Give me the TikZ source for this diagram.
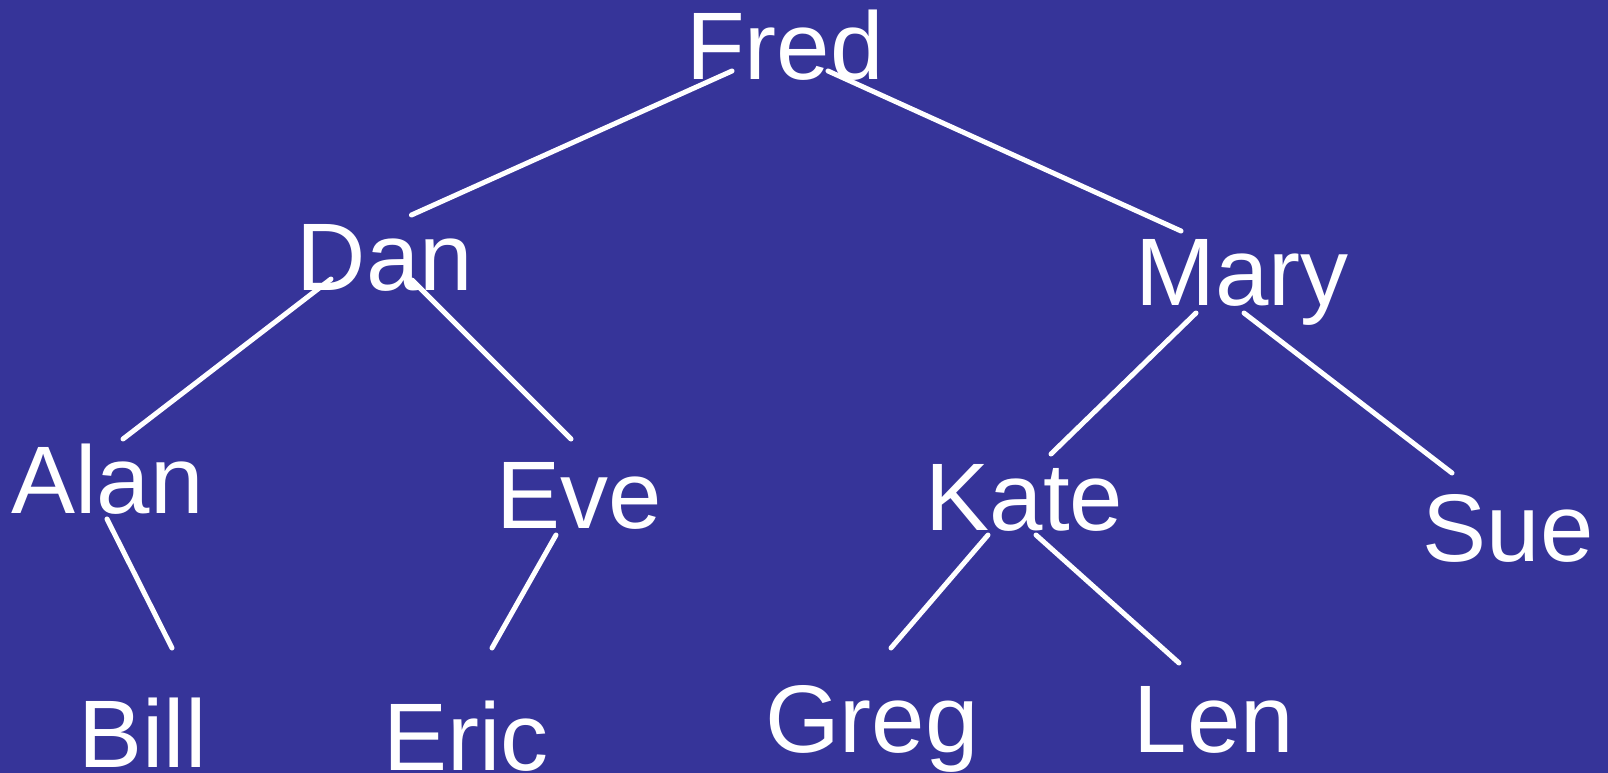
\documentclass[tikz,border=0pt]{standalone}
\usepackage{fontspec}
\setmainfont{Liberation Sans}
\usepackage{xcolor}
\usepackage{tikz}
\usetikzlibrary{positioning,calc}
\definecolor{treebg}{RGB}{54,52,153}
\tikzset{
  person/.style={text=white,anchor=base,inner sep=0pt,
               font=\fontsize{96}{96}\selectfont},  % names in the tree
  branch/.style={draw=white,line width=5pt,line cap=round} % free-floating links
}

\begin{document}
\begin{tikzpicture}[x=1pt,y=-1pt]
  \fill[treebg] (0,0) rectangle (1608,773);
  \useasboundingbox (0,0) rectangle (1608,773);

  % top row
  \node[person] (fred) at (785,80) {Fred};
  % second row
  \node[person] (dan)  at (385,290)  {Dan};
  \node[person] (mary) at (1242,305) {Mary};
  % third row
  \node[person] (alan) at (107.5,513) {Alan};
  \node[person] (eve)  at (579,528)   {Eve};
  \node[person] (kate) at (1024.5,530) {Kate};
  \node[person] (sue)  at (1508,561)  {Sue};
  % bottom row
  \node[person] (bill) at (142.5,767) {Bill};
  \node[person] (eric) at (466,770)   {Eric};
  \node[person] (greg) at (872,752)   {Greg};
  \node[person] (len)  at (1214,752)  {Len};

  \draw[branch] ([shift={(-53,-9)}]fred.base) -- ([shift={(26.5,-75)}]dan.base);
  \draw[branch] ([shift={(43,-9)}]fred.base)  -- ([shift={(-61,-74)}]mary.base);
  \draw[branch] ([shift={(-54,-11)}]dan.base) -- ([shift={(15.5,-74)}]alan.base);
  \draw[branch] ([shift={(27,-10)}]dan.base)  -- ([shift={(-8,-89)}]eve.base);
  \draw[branch] ([shift={(-46,8)}]mary.base)  -- ([shift={(26.5,-76)}]kate.base);
  \draw[branch] ([shift={(2,8)}]mary.base)    -- ([shift={(-56,-88)}]sue.base);
  \draw[branch] ([shift={(-0.5,6)}]alan.base) -- ([shift={(29.5,-119)}]bill.base);
  \draw[branch] ([shift={(-23,7)}]eve.base)   -- ([shift={(26,-122)}]eric.base);
  \draw[branch] ([shift={(-36.5,5)}]kate.base) -- ([shift={(19,-104)}]greg.base);
  \draw[branch] ([shift={(11.5,5)}]kate.base) -- ([shift={(-35,-89)}]len.base);
\end{tikzpicture}
\end{document}
